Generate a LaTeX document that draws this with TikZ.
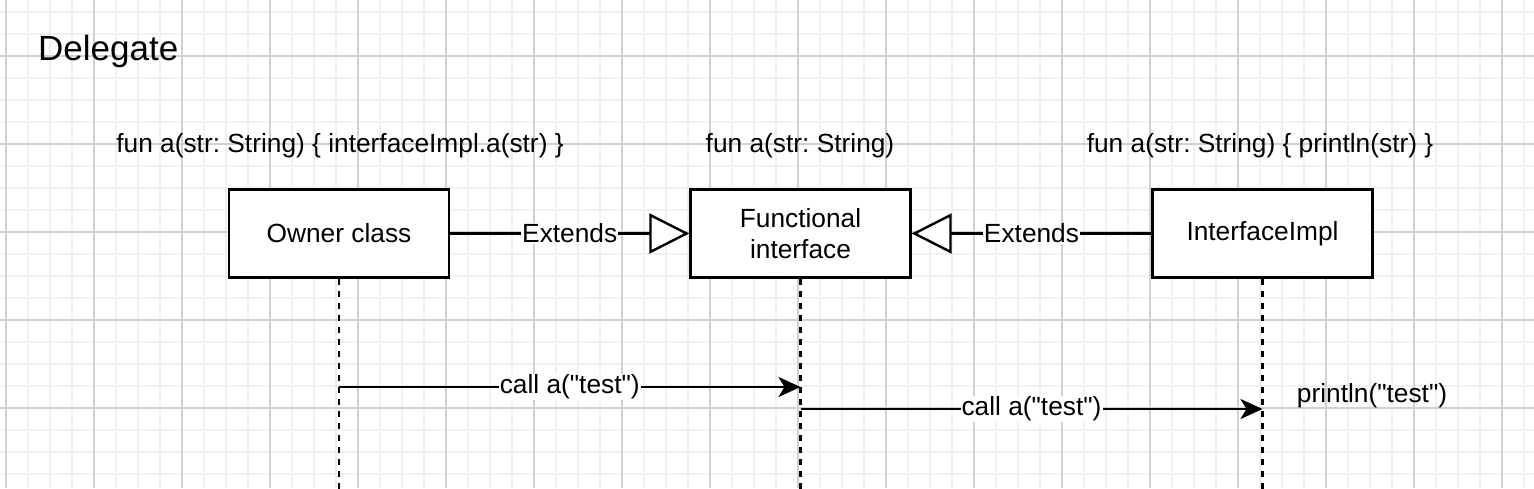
\documentclass[tikz,border=0pt]{standalone}
\usepackage{fontspec}
\setmainfont{Liberation Sans}[Ligatures=TeXOff]
\usetikzlibrary{arrows.meta}
\begin{document}
\frenchspacing
\begin{tikzpicture}[x=1pt,y=-1pt,
  lbl/.style={font=\fontsize{26.3}{31}\selectfont},
  minorgrid/.style={draw=black!6, line width=1.5pt},
  majorgrid/.style={draw=black!18, line width=1.2pt},
  box/.style={draw, line width=2.4pt, fill=white, minimum width=220pt, minimum height=88pt, inner sep=0pt, align=center, lbl},
  extends/.style={line width=2.4pt, -{Triangle[fill=white,length=40pt,width=40pt]}},
  lifeline/.style={line width=2.4pt, dash pattern=on 6pt off 6pt},
  msg/.style={line width=2.4pt, -{Stealth[length=22pt,width=20pt,inset=6pt]}},
  edgelbl/.style={lbl, fill=white, inner sep=1pt}
]
\useasboundingbox (0,0) rectangle (1534,488);
\fill[white] (0,0) rectangle (1534,488);
% grid
\foreach \x in {6,28,...,1534} \draw[minorgrid] (\x,0) -- (\x,488);
\foreach \y in {12,34,...,488} \draw[minorgrid] (0,\y) -- (1534,\y);
\foreach \x in {6,94,...,1534} \draw[majorgrid] (\x,0) -- (\x,488);
\foreach \y in {56,144,...,488} \draw[majorgrid] (0,\y) -- (1534,\y);

% title
\node[anchor=base west, inner sep=0pt, font=\fontsize{35}{41}\selectfont] (title) at (38,60) {Delegate};

% method labels
\node[lbl, anchor=base, inner sep=0pt] (t1) at (340,152) {fun a(str: String) \{ interfaceImpl.a(str) \}};
\node[lbl, anchor=base, inner sep=0pt] (t2) at (800,152) {fun a(str: String)};
\node[lbl, anchor=base, inner sep=0pt] (t3) at (1260,152) {fun a(str: String) \{ println(str) \}};

% boxes
\node[box] (owner) at (339,233.5) {Owner class};
\node[box] (func) at (800.5,233.5) {Functional\\interface};
\node[box] (impl) at (1262.5,233.5) {InterfaceImpl};

% lifeline ends
\coordinate (ownerEnd) at (339,495);
\coordinate (funcEnd) at (800.5,495);
\coordinate (implEnd) at (1262.5,495);
\draw[lifeline] (owner.south) -- (ownerEnd);
\draw[lifeline] (func.south) -- (funcEnd);
\draw[lifeline] (impl.south) -- (implEnd);

% extends
\draw[extends] (owner.east) -- node[edgelbl] {Extends} (func.west);
\draw[extends] (impl.west) -- node[edgelbl] {Extends} (func.east);

% messages
\coordinate (m1s) at (339,387);
\coordinate (m1e) at (800.5,387);
\coordinate (m2s) at (800.5,409);
\coordinate (m2e) at (1262.5,409);
\draw[msg] (m1s) -- node[edgelbl] {call a("test")} (m1e);
\draw[msg] (m2s) -- node[edgelbl] {call a("test")} (m2e);

\node[lbl, anchor=base, inner sep=0pt] (pr) at (1372,402) {println("test")};
\end{tikzpicture}
\end{document}
